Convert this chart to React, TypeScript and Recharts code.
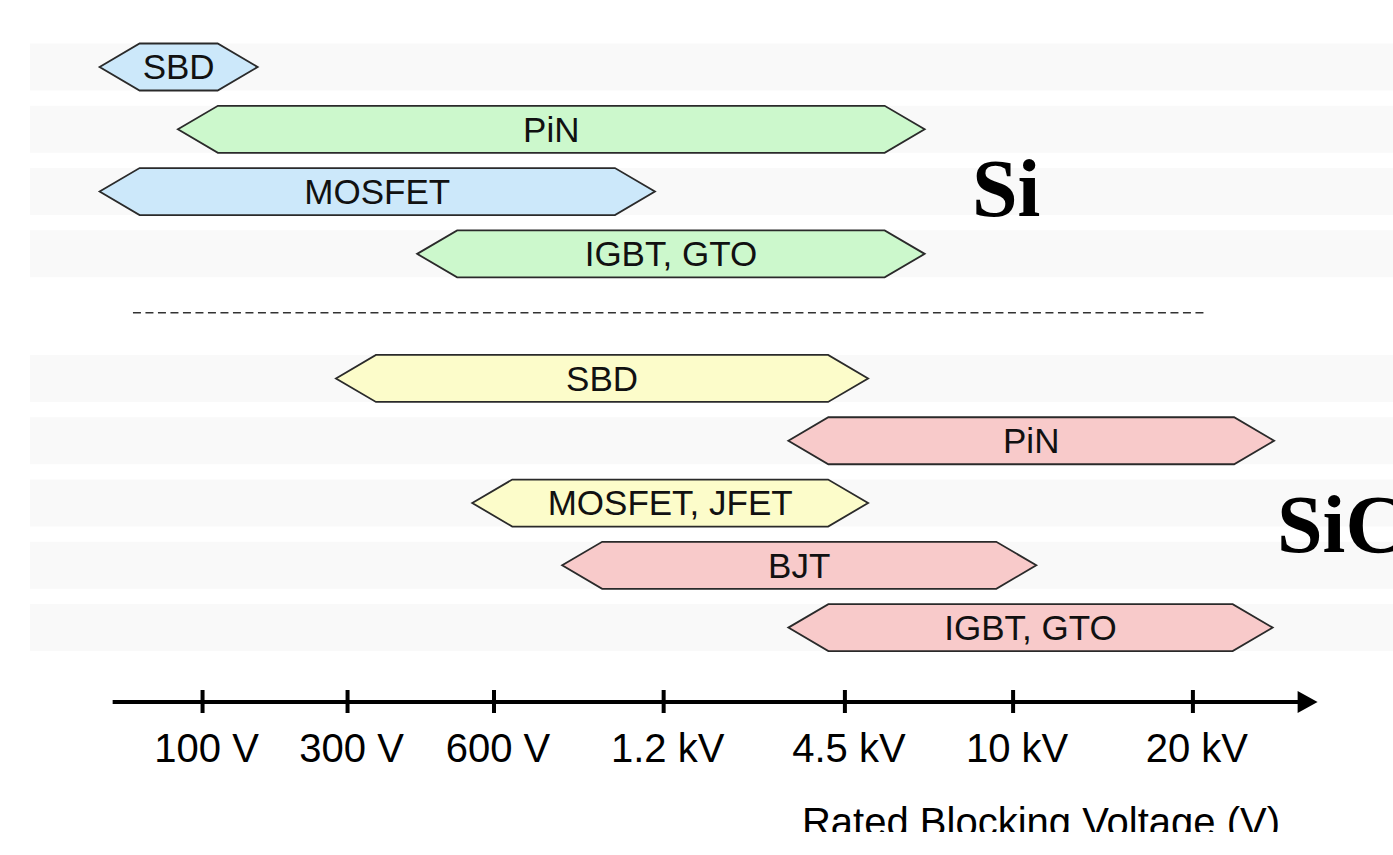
import { BarChart, Bar, XAxis, YAxis, ReferenceLine, LabelList } from "recharts";

// tick positions are on the figure's hand-drawn (non-linear) voltage axis
const voltageLabels = ["100 V", "300 V", "600 V", "1.2 kV", "4.5 kV", "10 kV", "20 kV"];
const voltagePos = [1, 2, 3.01, 4.18, 5.43, 6.59, 7.83];

const devices = ["SBD", "PiN", "MOSFET", "IGBT, GTO", "SBD", "PiN", "MOSFET, JFET", "BJT", "IGBT, GTO"];
const materials = ["Si", "Si", "Si", "Si", "SiC", "SiC", "SiC", "SiC", "SiC"];
const carriers = ["unipolar", "bipolar", "unipolar", "bipolar", "unipolar", "bipolar", "unipolar", "bipolar", "bipolar"];
const rows = [0, 1, 2, 3, 5, 6, 7, 8, 9];
const rangeFrom = [0.29, 0.83, 0.29, 2.48, 1.92, 5.04, 2.86, 3.48, 5.04];
const rangeTo = [1.38, 5.98, 4.12, 5.98, 5.59, 8.39, 5.59, 6.75, 8.38];

const data = devices.map((name, i) => ({
    name,
    row: rows[i],
    range: [rangeFrom[i], rangeTo[i]],
    kind: materials[i] + "-" + carriers[i],
}));

const fills: Record<string, string> = {
    "Si-unipolar": "#cce8fa",
    "Si-bipolar": "#ccf8cc",
    "SiC-unipolar": "#fcfcca",
    "SiC-bipolar": "#f8caca",
};

const SANS = "'Liberation Sans', Arial, sans-serif";
const SERIF = "'Liberation Serif', 'Times New Roman', serif";

function Hexagon(props: any) {
    const { x, y, width, height, payload } = props;
    const tip = Math.min(40, width / 2);
    const mid = y + height / 2;
    const pts = [
        [x, mid],
        [x + tip, y],
        [x + width - tip, y],
        [x + width, mid],
        [x + width - tip, y + height],
        [x + tip, y + height],
    ].map((p) => p.join(",")).join(" ");
    return <polygon points={pts} fill={fills[payload.kind]} stroke="#2a2a2a" strokeWidth={1.8} />;
}

function VoltageTick(props: any) {
    const { x, y, index } = props;
    return (
        <g>
            <line x1={x} x2={x} y1={y - 12} y2={y + 11} stroke="#000" strokeWidth={4} />
            <text x={x + 4} y={y + 60} textAnchor="middle" fontSize={40} fontFamily={SANS} fill="#000">
                {voltageLabels[index]}
            </text>
        </g>
    );
}

function AxisArrow(props: any) {
    const { x1, y1, x2, y2 } = props;
    return (
        <g>
            <line x1={x1} y1={y1} x2={x2 - 16} y2={y2} stroke="#000" strokeWidth={4} />
            <polygon points={`${x2 - 20},${y2 - 11} ${x2},${y2} ${x2 - 20},${y2 + 11}`} fill="#000" />
        </g>
    );
}

export default function App() {
    return (
        <div style={{ position: "absolute", left: 0, top: 0, width: 1393, height: 855, background: "#fff" }}>
            <BarChart
                width={1393}
                height={855}
                data={data}
                layout="vertical"
                margin={{ top: 0, right: 0, bottom: 0, left: 30 }}
            >
                <XAxis
                    type="number"
                    domain={[-0.19, 9.21]}
                    ticks={voltagePos}
                    interval={0}
                    axisLine={false}
                    tickLine={false}
                    tickSize={0}
                    tickMargin={0}
                    height={153}
                    tick={<VoltageTick />}
                />
                <YAxis type="number" dataKey="row" domain={[-1.07, 10.2]} hide />
                <ReferenceLine
                    segment={[{ x: 0.52, y: 3.95 }, { x: 7.92, y: 3.95 }]}
                    stroke="#333"
                    strokeWidth={1.5}
                    strokeDasharray="8 4.5"
                    ifOverflow="visible"
                />
                <ReferenceLine
                    segment={[{ x: 0.38, y: 10.2 }, { x: 8.69, y: 10.2 }]}
                    ifOverflow="visible"
                    shape={AxisArrow}
                />
                <Bar
                    dataKey="range"
                    barSize={47}
                    shape={Hexagon}
                    background={{ fill: "#f9f9f9" }}
                    isAnimationActive={false}
                >
                    <LabelList dataKey="name" position="center" fill="#111" fontSize={35} fontFamily={SANS} />
                </Bar>
            </BarChart>
            <svg
                width={1393}
                height={832}
                style={{ position: "absolute", left: 0, top: 0, pointerEvents: "none" }}
            >
                <text x={972} y={216} fontSize={82} fontWeight="bold" fontFamily={SERIF} fill="#000">Si</text>
                <text x={1277} y={552} fontSize={82} fontWeight="bold" fontFamily={SERIF} fill="#000">SiC</text>
                <text x={1041} y={836} textAnchor="middle" fontSize={40} fontFamily={SANS} fill="#000">
                    Rated Blocking Voltage (V)
                </text>
            </svg>
        </div>
    );
}
